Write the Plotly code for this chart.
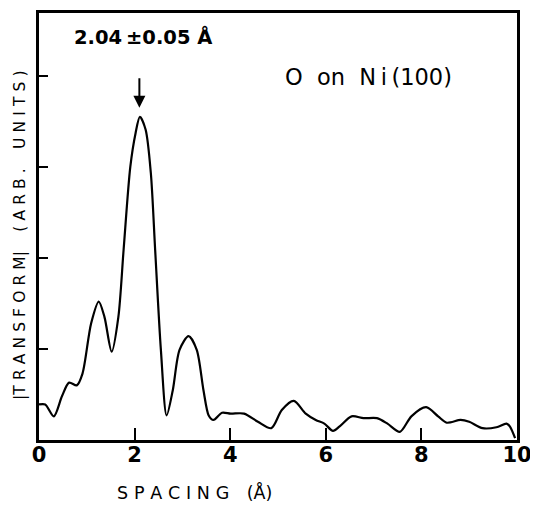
import plotly.graph_objects as go

spacing = [0.0, 0.13, 0.31, 0.48, 0.63, 0.79, 0.91, 1.09, 1.25, 1.37, 1.52, 1.66, 1.77,
           1.91, 2.02, 2.11, 2.23, 2.34, 2.43, 2.55, 2.67, 2.80, 2.94, 3.13, 3.30, 3.44,
           3.55, 3.65, 3.83, 4.01, 4.29, 4.58, 4.86, 5.08, 5.33, 5.58, 5.79, 5.97, 6.15,
           6.29, 6.54, 6.79, 7.07, 7.29, 7.55, 7.79, 8.10, 8.35, 8.53, 8.82, 9.00, 9.28,
           9.57, 9.78, 9.85, 9.96]
transform = [0.39, 0.39, 0.26, 0.48, 0.63, 0.60, 0.73, 1.28, 1.52, 1.35, 0.97, 1.35, 2.09,
             3.00, 3.37, 3.55, 3.41, 2.93, 2.09, 0.99, 0.27, 0.55, 0.99, 1.14, 0.99, 0.55,
             0.27, 0.22, 0.30, 0.29, 0.29, 0.20, 0.13, 0.33, 0.43, 0.29, 0.22, 0.18, 0.10,
             0.15, 0.26, 0.24, 0.24, 0.18, 0.09, 0.26, 0.36, 0.26, 0.19, 0.22, 0.20, 0.13,
             0.14, 0.18, 0.15, 0.02]

x_ticks = [0, 2, 4, 6, 8, 10]
x_tick_marks = [2, 4, 6, 8]
y_tick_marks = [1, 2, 3, 4]

peak_x = 2.1
peak_label = "2.04\u2009±0.05\u00a0Å"
sample_label = "O\u00a0\u00a0on\u00a0\u00a0N\u2009i\u2009(100)"

x_title = "\u2004".join("SPACING") + "\u2003(Å)"
ls = "\u2004"
y_title = ("|" + ls.join("TRANSFORM") + "|" + "\u2002\u2002\u2005" + ls.join("(ARB.")
           + "\u2002\u2002\u2005" + ls.join("UNITS)"))

fig = go.Figure()
fig.add_trace(go.Scatter(x=spacing, y=transform, mode="lines",
                         line=dict(color="black", width=2.2, shape="spline", smoothing=0.8),
                         showlegend=False, hoverinfo="skip"))
fig.add_trace(go.Scatter(x=[0, 10], y=[None, None], xaxis="x2", showlegend=False,
                         hoverinfo="skip"))

# page body has an 8px margin, so the figure is 8px smaller and offsets are reduced
fig.update_layout(
    width=530, height=498,
    margin=dict(l=31, r=21, t=5, b=66),
    paper_bgcolor="white", plot_bgcolor="white",
    xaxis=dict(range=[0, 10], showgrid=False, zeroline=False, automargin=False,
               showline=True, linecolor="black", linewidth=3, mirror=True,
               tickmode="array", tickvals=x_tick_marks, ticktext=["", "", "", ""],
               ticks="inside", ticklen=12, tickwidth=2, tickcolor="black"),
    xaxis2=dict(range=[0, 10], overlaying="x", side="bottom", showgrid=False,
                zeroline=False, showline=False, automargin=False,
                tickmode="array", tickvals=x_ticks,
                ticktext=[str(v) for v in x_ticks], ticks="",
                tickfont=dict(family="DejaVu Sans", size=21, color="black", weight="bold")),
    yaxis=dict(range=[0, 4.69], showgrid=False, zeroline=False, automargin=False,
               showline=True, linecolor="black", linewidth=3, mirror=True,
               tickmode="array", tickvals=y_tick_marks, showticklabels=False,
               ticks="inside", ticklen=9, tickwidth=2, tickcolor="black"),
)

fig.add_annotation(x=0.068, y=0.944, xref="paper", yref="paper", text=peak_label,
                   showarrow=False, xanchor="left", yanchor="middle",
                   font=dict(family="DejaVu Sans", size=19.5, color="black", weight="bold"))
fig.add_annotation(x=0.51, y=0.850, xref="paper", yref="paper", text=sample_label,
                   showarrow=False, xanchor="left", yanchor="middle",
                   font=dict(family="DejaVu Sans", size=22.5, color="black"))
fig.add_annotation(x=peak_x, y=3.65, ax=peak_x, ay=3.99, xref="x", yref="y",
                   axref="x", ayref="y", text="", showarrow=True, arrowhead=2,
                   arrowsize=1.2, arrowwidth=2, arrowcolor="black")

fig.add_annotation(x=0.325, y=-0.124, xref="paper", yref="paper",
                   text=x_title, showarrow=False,
                   xanchor="center", yanchor="middle",
                   font=dict(family="DejaVu Sans", size=17.5, color="black"))
fig.add_annotation(x=-0.040, y=0.480, xref="paper", yref="paper",
                   text=y_title, showarrow=False,
                   textangle=-90, xanchor="center", yanchor="middle",
                   font=dict(family="DejaVu Sans", size=15.5, color="black"))

fig.write_html("out.html")
